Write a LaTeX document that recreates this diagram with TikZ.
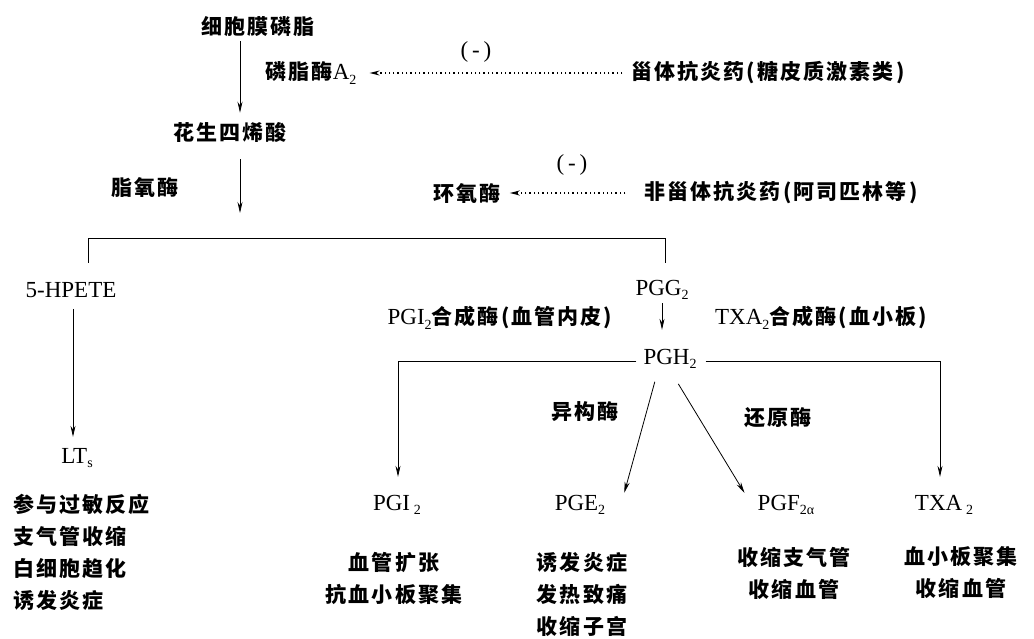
\documentclass[tikz,border=0pt]{standalone}
\usepackage{fontspec}
\usetikzlibrary{arrows.meta}
\setmainfont{Liberation Serif}
\newfontfamily\cjfam[LetterSpace=10]{Noto Sans CJK SC}
\newcommand\cjf{\cjfam\bfseries\fontsize{21}{32}\selectfont}
\newcommand\latf{\rmfamily\mdseries\fontsize{23}{27}\selectfont}
\newcommand\subs[1]{\raisebox{-0.45ex}{\fontsize{14}{14}\selectfont #1}}
\begin{document}
\begin{tikzpicture}[x=1pt,y=-1pt,
  every node/.style={inner sep=1pt},
  cn/.style={font=\cjf},
  ln/.style={font=\latf},
  conn/.style={line width=0.8pt},
  arr/.style={conn,-{Stealth[length=11pt,width=5pt]}},
  dotarr/.style={line width=1.3pt,dash pattern=on 1.3pt off 3pt,-{Stealth[length=10pt,width=5pt]}}]
\useasboundingbox (0,0) rectangle (1034,639);
% nodes
\node[cn] (pl) at (258,27) {细胞膜磷脂};
\node[cn] (pla) at (311,73) {磷脂酶{\latf A\subs{2}}};
\node[cn] (d1) at (768,73) {甾体抗炎药(糖皮质激素类)};
\node[ln] (m1) at (476,52) {(\,-\,)};
\node[cn] (aa) at (230,133) {花生四烯酸};
\node[cn] (lox) at (145,188) {脂氧酶};
\node[cn] (cox) at (467,193) {环氧酶};
\node[cn] (d2) at (781,193) {非甾体抗炎药(阿司匹林等)};
\node[ln] (m2) at (572,165) {(\,-\,)};
\node[ln] (hp) at (71,290) {5-HPETE};
\node[ln] (pgg) at (662,290) {PGG\subs{2}};
\node[cn] (e1) at (500,318) {{\latf PGI\subs{2}}合成酶(血管内皮)};
\node[cn] (e2) at (821,318) {{\latf TXA\subs{2}}合成酶(血小板)};
\node[ln] (pgh) at (670,359) {PGH\subs{2}};
\node[ln] (lts) at (77,458) {LT\subs{s}};
\node[cn,align=left,anchor=north west] (ltx) at (12,493) {参与过敏反应\\支气管收缩\\白细胞趋化\\诱发炎症};
\node[ln] (pgi) at (397,505) {PGI\,\subs{2}};
\node[cn,align=center] (pgix) at (394,579) {血管扩张\\抗血小板聚集};
\node[ln] (pge) at (580,505) {PGE\subs{2}};
\node[cn,align=center] (pgex) at (582,594) {诱发炎症\\发热致痛\\收缩子宫};
\node[ln] (pgf) at (786,505) {PGF\subs{2α}};
\node[cn,align=center] (pgfx) at (794,573) {收缩支气管\\收缩血管};
\node[ln] (txa) at (944,505) {TXA\,\subs{2}};
\node[cn,align=center] (txax) at (961,573) {血小板聚集\\收缩血管};
\node[cn] (iso) at (585,412) {异构酶};
\node[cn] (red) at (778,418) {还原酶};
% coordinates
\coordinate (x1) at (240,0);
\coordinate (ar2) at (240,213);
\coordinate (bL0) at (88,263);
\coordinate (bR) at (665,238);
\coordinate (bR0) at (665,263);
\coordinate (x2) at (73,0);
\coordinate (x3) at (662,0);
\coordinate (lb) at (398,361);
\coordinate (rb) at (940,361);
% connectors
\draw[arr,shorten <=3pt,shorten >=9pt] (x1 |- pl.south) -- (x1 |- aa.north);
\draw[dotarr,shorten <=8pt,shorten >=12pt] (d1.west) -- (pla.east);
\draw[arr,shorten <=15pt] (x1 |- aa.south) -- (ar2);
\draw[dotarr,shorten <=18pt,shorten >=8pt] (d2.west) -- (cox.east);
\draw[conn] (bL0) |- (bR) -- (bR0);
\draw[arr,shorten <=10pt,shorten >=10pt] (x2 |- hp.south) -- (x2 |- lts.north);
\draw[arr,shorten <=2pt,shorten >=18pt] (x3 |- pgg.south) -- (x3 |- pgh.north);
\draw[arr,shorten <=6pt,shorten >=17pt] (pgh.west |- lb) -- (lb) -- (lb |- pgi.north);
\draw[arr,shorten <=8pt,shorten >=17pt] (pgh.east |- rb) -- (rb) -- (rb |- txa.north);
\draw[arr,shorten <=12pt,shorten >=1pt] ([xshift=-12pt]pgh.south) -- ([xshift=44pt]pge.north);
\draw[arr,shorten <=16pt,shorten >=1pt] (pgh.south) -- ([xshift=-41pt]pgf.north);
\end{tikzpicture}
\end{document}
